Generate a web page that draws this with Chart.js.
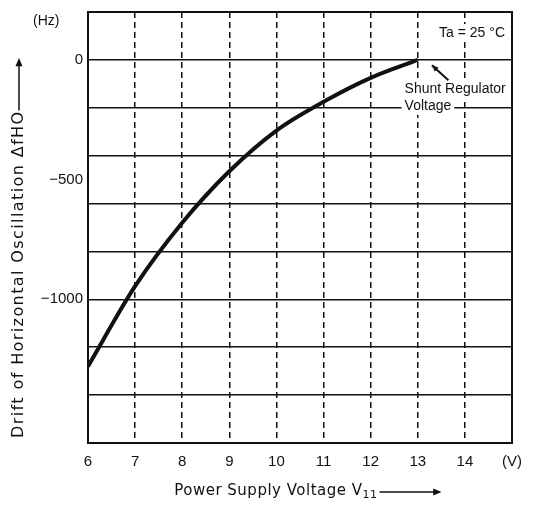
<!DOCTYPE html>
<html>
<head>
<meta charset="utf-8">
<script src="https://cdn.jsdelivr.net/npm/chart.js@4"></script>
<style>
  body { margin: 0; background: #fff; }
  #wrap { width: 546px; height: 506px; position: relative; }
</style>
</head>
<body>
<div id="wrap"><canvas id="myChart"></canvas></div>
<script>
// data
const voltage = [6, 7, 8, 9, 10, 11, 12, 13];
const drift = [-1280, -945, -680, -465, -295, -175, -75, 0];

// tick labels
const xTickLabels = {6: '6', 7: '7', 8: '8', 9: '9', 10: '10', 11: '11', 12: '12', 13: '13', 14: '14', 15: '(V)'};
const yTickLabels = {0: '0', '-500': '−500', '-1000': '−1000'};

const ink = '#111';
const fontFam = '"Liberation Sans", Arial, sans-serif';
const titleFam = '"DejaVu Sans", sans-serif';

Chart.defaults.font.family = fontFam;
Chart.defaults.color = ink;

function arrowHead(c, x1, y1, ang, len) {
    c.beginPath();
    c.moveTo(x1, y1);
    c.lineTo(x1 - len * Math.cos(ang - 0.4), y1 - len * Math.sin(ang - 0.4));
    c.lineTo(x1 - len * Math.cos(ang + 0.4), y1 - len * Math.sin(ang + 0.4));
    c.closePath();
    c.fill();
}

// frame, axis titles and notes drawn after the chart
const notes = {
    id: 'notes',
    afterDraw(chart) {
        const c = chart.ctx;
        const a = chart.chartArea;
        const x = chart.scales.x, y = chart.scales.y;
        c.save();
        c.font = '14px ' + fontFam;
        c.textBaseline = 'middle';

        const label = (txt, px, py, align) => {
            const w = c.measureText(txt).width;
            const lx = align === 'right' ? px - w : px;
            c.fillStyle = '#fff';
            c.fillRect(lx - 3, py - 9, w + 6, 18);
            c.fillStyle = ink;
            c.textAlign = 'left';
            c.fillText(txt, lx, py);
        };
        label('Ta = 25 °C', a.right - 7, y.getPixelForValue(112), 'right');
        label('Shunt Regulator', x.getPixelForValue(12.72), y.getPixelForValue(-122), 'left');
        label('Voltage', x.getPixelForValue(12.72), y.getPixelForValue(-192), 'left');

        // unit of the y axis
        c.font = '14px ' + fontFam;
        c.textAlign = 'left';
        c.fillText('(Hz)', 33, y.getPixelForValue(160));

        c.strokeStyle = ink;
        c.fillStyle = ink;
        c.lineWidth = 2;
        c.strokeRect(a.left, a.top, a.right - a.left, a.bottom - a.top);

        // arrow pointing at the end of the curve
        const x0 = x.getPixelForValue(13.65), y0 = y.getPixelForValue(-85);
        const x1 = x.getPixelForValue(13.3), y1 = y.getPixelForValue(-22);
        c.beginPath(); c.moveTo(x0, y0); c.lineTo(x1, y1); c.stroke();
        arrowHead(c, x1, y1, Math.atan2(y1 - y0, x1 - x0), 7);

        // x axis title with subscript and arrow
        c.textAlign = 'left';
        c.letterSpacing = '0.5px';
        c.font = '15px ' + titleFam;
        const tx = x.getPixelForValue(7.83), ty = 491;
        const main = 'Power Supply Voltage V';
        c.fillText(main, tx, ty);
        let ex = tx + c.measureText(main).width;
        c.font = '11px ' + titleFam;
        c.fillText('11', ex, ty + 4);
        ex += c.measureText('11').width + 2;
        c.lineWidth = 1.5;
        c.beginPath(); c.moveTo(ex, ty + 1); c.lineTo(ex + 60, ty + 1); c.stroke();
        arrowHead(c, ex + 62, ty + 1, 0, 9);

        // y axis title, rotated, arrow up to the zero line
        c.save();
        c.translate(19, a.bottom - 5);
        c.rotate(-Math.PI / 2);
        c.letterSpacing = '1.4px';
        c.font = '16px ' + titleFam;
        const ytxt = 'Drift of Horizontal Oscillation ΔfHO';
        c.fillText(ytxt, 0, 0);
        const yw = c.measureText(ytxt).width;
        const endLen = (a.bottom - 5) - y.getPixelForValue(0);
        c.beginPath(); c.moveTo(yw, 0); c.lineTo(endLen, 0); c.stroke();
        arrowHead(c, endLen + 2, 0, 0, 9);
        c.restore();

        c.restore();
    }
};

const chart = new Chart(document.getElementById('myChart'), {
    type: 'line',
    data: {
        datasets: [{
            data: voltage.map((v, i) => ({x: v, y: drift[i]})),
            borderColor: ink,
            borderWidth: 4,
            pointRadius: 0,
            cubicInterpolationMode: 'monotone',
            fill: false
        }]
    },
    options: {
        responsive: true,
        maintainAspectRatio: false,
        animation: false,
        layout: { padding: { top: 12, right: 34, left: 0, bottom: 0 } },
        plugins: { legend: { display: false }, tooltip: { enabled: false } },
        scales: {
            x: {
                type: 'linear',
                min: 6, max: 15,
                afterFit: s => { s.height = 63; },
                ticks: {
                    stepSize: 1,
                    padding: 10,
                    font: { size: 15 },
                    callback: v => xTickLabels[v] ?? ''
                },
                grid: {
                    drawTicks: false,
                    lineWidth: 1.5,
                    color: ctx => (ctx.tick && ctx.tick.value >= 7 && ctx.tick.value <= 14) ? ink : 'rgba(0,0,0,0)'
                },
                border: { display: false, dash: [6, 4] }
            },
            y: {
                type: 'linear',
                min: -1600, max: 200,
                afterFit: s => { s.width = 88; s.paddingTop = 0; s.paddingBottom = 0; },
                ticks: {
                    stepSize: 100,
                    padding: 5,
                    autoSkip: false,
                    font: { size: 15 },
                    callback: v => yTickLabels[v] ?? ''
                },
                grid: {
                    drawTicks: false,
                    lineWidth: 1.5,
                    color: ctx => (ctx.tick && ctx.tick.value % 200 === 0 && ctx.tick.value <= 0 && ctx.tick.value >= -1400) ? ink : 'rgba(0,0,0,0)'
                },
                border: { display: false }
            }
        }
    },
    plugins: [notes]
});
</script>
</body>
</html>
